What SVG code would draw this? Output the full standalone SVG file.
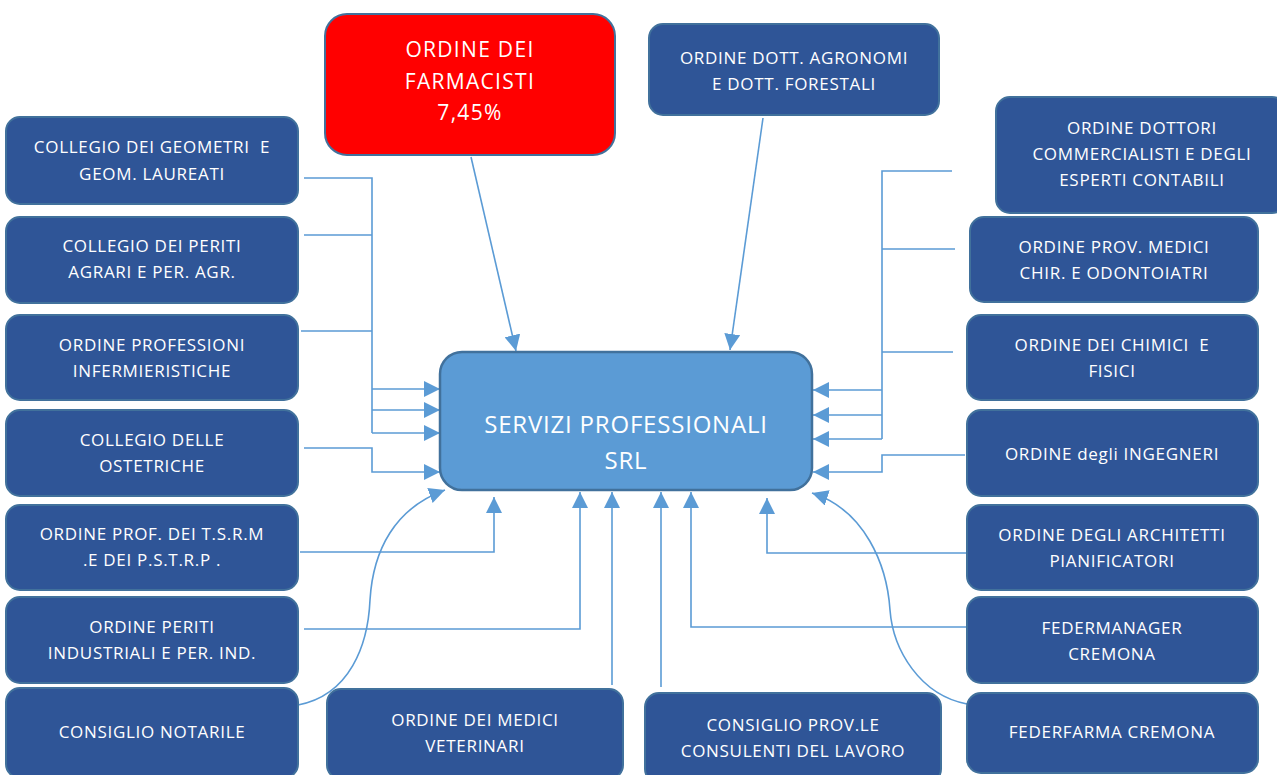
<svg xmlns="http://www.w3.org/2000/svg" width="1277" height="775" viewBox="0 0 1277 775">
<defs>
<marker id="ah" viewBox="0 0 10 10" refX="10" refY="5" markerWidth="16" markerHeight="16" markerUnits="userSpaceOnUse" orient="auto">
<path d="M0,0 L10,5 L0,10 z" fill="#5B9BD5"/>
</marker>
<style>
.n{fill:#2F5597;stroke:#41719C;stroke-width:2}
.t{fill:#fff;font-family:"Open Sans","Liberation Sans",sans-serif;font-size:17px;letter-spacing:0.7px;text-anchor:middle;white-space:pre}
.b{font-size:24px;letter-spacing:0.8px}
.r{font-size:21px;letter-spacing:1.3px}
.c{fill:none;stroke:#5B9BD5;stroke-width:1.6}
.a{marker-end:url(#ah)}
</style>
</defs>
<rect width="1277" height="775" fill="#fff"/>
<g id="connectors">
<path class="c" d="M304,178 H372 V433 M304,235 H372 M301,331 H372"/>
<path class="c a" d="M372,389 H440"/>
<path class="c a" d="M372,410 H440"/>
<path class="c a" d="M372,433 H440"/>
<path class="c a" d="M304,448 H372 V472 H440"/>
<path class="c a" d="M300,552 H494 V497"/>
<path class="c a" d="M304,629 H580 V492"/>
<path class="c a" d="M298,705 C350,695 368,645 370,600 C373,550 395,508 445,490"/>
<path class="c a" d="M612,685 V492"/>
<path class="c a" d="M661,687 V492"/>
<path class="c a" d="M967,627 H691 V492"/>
<path class="c a" d="M967,553 H767 V498"/>
<path class="c a" d="M967,704 C920,695 893,650 890,610 C887,565 865,510 812,493"/>
<path class="c" d="M952,171 H882 V439 M955,249 H882 M953,352 H882"/>
<path class="c a" d="M882,390 H813"/>
<path class="c a" d="M882,415 H813"/>
<path class="c a" d="M882,439 H813"/>
<path class="c a" d="M965,455 H882 V472 H813"/>
<path class="c a" d="M471,157 L516,351"/>
<path class="c a" d="M763,118 L730,350"/>
</g>
<g id="servizi"><rect x="440" y="352" width="372" height="138" rx="22" fill="#5B9BD5" stroke="#41719C" stroke-width="2.5"/>
<text class="t b" x="626" y="433">SERVIZI PROFESSIONALI</text><text class="t b" x="626" y="469">SRL</text></g>
<g id="farmacisti"><rect x="325" y="14" width="290" height="141" rx="22" fill="#FF0000" stroke="#41719C" stroke-width="2"/>
<text class="t r" x="470" y="57">ORDINE DEI</text><text class="t r" x="470" y="89">FARMACISTI</text><text class="t r" x="470" y="120">7,45%</text></g>
<g id="agronomi"><rect class="n" x="649" y="24" width="290" height="91" rx="14"/>
<text class="t" x="794" y="64">ORDINE DOTT. AGRONOMI</text><text class="t" x="794" y="90">E DOTT. FORESTALI</text></g>
<g id="geometri"><rect class="n" x="6" y="117" width="292" height="87" rx="14"/>
<text class="t" x="152" y="153" xml:space="preserve">COLLEGIO DEI GEOMETRI  E</text><text class="t" x="152" y="180">GEOM. LAUREATI</text></g>
<g id="periti-agrari"><rect class="n" x="6" y="217" width="292" height="86" rx="14"/>
<text class="t" x="152" y="252">COLLEGIO DEI PERITI</text><text class="t" x="152" y="278">AGRARI E PER. AGR.</text></g>
<g id="infermieristiche"><rect class="n" x="6" y="315" width="292" height="85" rx="14"/>
<text class="t" x="152" y="351">ORDINE PROFESSIONI</text><text class="t" x="152" y="377">INFERMIERISTICHE</text></g>
<g id="ostetriche"><rect class="n" x="6" y="410" width="292" height="86" rx="14"/>
<text class="t" x="152" y="446">COLLEGIO DELLE</text><text class="t" x="152" y="472">OSTETRICHE</text></g>
<g id="tsrm"><rect class="n" x="6" y="505" width="292" height="85" rx="14"/>
<text class="t" x="152" y="540">ORDINE PROF. DEI T.S.R.M</text><text class="t" x="152" y="566">.E DEI P.S.T.R.P .</text></g>
<g id="periti-industriali"><rect class="n" x="6" y="597" width="292" height="86" rx="14"/>
<text class="t" x="152" y="633">ORDINE PERITI</text><text class="t" x="152" y="659">INDUSTRIALI E PER. IND.</text></g>
<g id="notarile"><rect class="n" x="6" y="688" width="292" height="90" rx="14"/>
<text class="t" x="152" y="738">CONSIGLIO NOTARILE</text></g>
<g id="veterinari"><rect class="n" x="327" y="689" width="296" height="90" rx="14"/>
<text class="t" x="475" y="726">ORDINE DEI MEDICI</text><text class="t" x="475" y="752">VETERINARI</text></g>
<g id="consulenti"><rect class="n" x="645" y="693" width="296" height="90" rx="14"/>
<text class="t" x="793" y="731">CONSIGLIO PROV.LE</text><text class="t" x="793" y="757">CONSULENTI DEL LAVORO</text></g>
<g id="commercialisti"><rect class="n" x="996" y="97" width="290" height="116" rx="14"/>
<text class="t" x="1142" y="134">ORDINE DOTTORI</text><text class="t" x="1142" y="160">COMMERCIALISTI E DEGLI</text><text class="t" x="1142" y="186">ESPERTI CONTABILI</text></g>
<g id="medici"><rect class="n" x="970" y="217" width="288" height="85" rx="14"/>
<text class="t" x="1114" y="253">ORDINE PROV. MEDICI</text><text class="t" x="1114" y="279">CHIR. E ODONTOIATRI</text></g>
<g id="chimici"><rect class="n" x="967" y="315" width="291" height="85" rx="14"/>
<text class="t" x="1112" y="351" xml:space="preserve">ORDINE DEI CHIMICI  E</text><text class="t" x="1112" y="377">FISICI</text></g>
<g id="ingegneri"><rect class="n" x="967" y="410" width="291" height="86" rx="14"/>
<text class="t" x="1112" y="460">ORDINE degli INGEGNERI</text></g>
<g id="architetti"><rect class="n" x="967" y="505" width="291" height="85" rx="14"/>
<text class="t" x="1112" y="541">ORDINE DEGLI ARCHITETTI</text><text class="t" x="1112" y="567">PIANIFICATORI</text></g>
<g id="federmanager"><rect class="n" x="967" y="597" width="291" height="86" rx="14"/>
<text class="t" x="1112" y="634">FEDERMANAGER</text><text class="t" x="1112" y="660">CREMONA</text></g>
<g id="federfarma"><rect class="n" x="967" y="693" width="291" height="80" rx="14"/>
<text class="t" x="1112" y="738">FEDERFARMA CREMONA</text></g>
</svg>
